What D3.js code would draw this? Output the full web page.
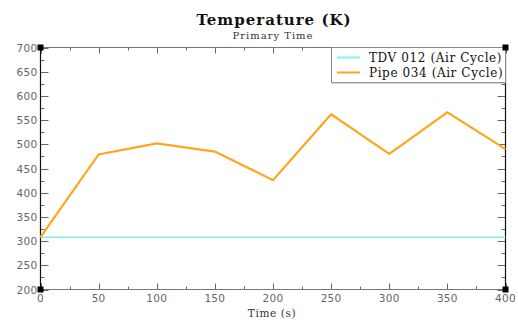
<!DOCTYPE html>
<html>
<head>
<meta charset="utf-8">
<script src="https://cdn.jsdelivr.net/npm/d3@7"></script>
<style>
  html, body { margin: 0; padding: 0; background: #fff; }
  svg { display: block; }
</style>
</head>
<body>
<svg id="chart" width="518" height="320"></svg>
<script>
// Time samples (s)
const times = [0, 50, 100, 150, 200, 250, 300, 350, 400];
// TDV 012 (Air Cycle) temperature (K)
const tdvTemps = [308, 308, 308, 308, 308, 308, 308, 308, 308];
// Pipe 034 (Air Cycle) temperature (K)
const pipeTemps = [308, 479, 502, 485, 426, 562, 480, 566, 490];
const seriesNames = ["TDV 012 (Air Cycle)", "Pipe 034 (Air Cycle)"];
const seriesColors = ["#7ff0ee", "#ffa51f"];
const xTicks = [0, 50, 100, 150, 200, 250, 300, 350, 400];
const yTicks = [200, 250, 300, 350, 400, 450, 500, 550, 600, 650, 700];

const svg = d3.select("#chart");
const plotL = 40.5, plotR = 505.5, plotT = 47.5, plotB = 289.5;

const x = d3.scaleLinear().domain([0, 400]).range([plotL, plotR]);
const y = d3.scaleLinear().domain([200, 700]).range([plotB, plotT]);

const serif = "'DejaVu Serif', serif";
const sans = "'DejaVu Sans', sans-serif";

// Titles
svg.append("text").attr("x", 274).attr("y", 25).attr("text-anchor", "middle")
  .attr("font-family", serif).attr("font-weight", "bold").attr("font-size", 15)
  .attr("letter-spacing", 1).attr("fill", "#111").text("Temperature (K)");
svg.append("text").attr("x", 273).attr("y", 39).attr("text-anchor", "middle")
  .attr("font-family", serif).attr("font-size", 10).attr("letter-spacing", 1)
  .attr("fill", "#333").text("Primary Time");
svg.append("text").attr("x", 272).attr("y", 317).attr("text-anchor", "middle")
  .attr("font-family", serif).attr("font-size", 10.5).attr("letter-spacing", 0.6)
  .attr("fill", "#333").text("Time (s)");

// Minor ticks every 25 units
const xMinor = d3.range(25, 400, 50);
const yMinor = d3.range(225, 700, 50);

const tickG = svg.append("g").attr("stroke", "#666").attr("stroke-width", 1);
// left / right axis ticks (pointing inward)
yTicks.forEach(v => {
  const py = Math.round(y(v)) + 0.5;
  tickG.append("line").attr("x1", plotL).attr("x2", plotL + 8).attr("y1", py).attr("y2", py);
  tickG.append("line").attr("x1", plotR).attr("x2", plotR - 8).attr("y1", py).attr("y2", py);
});
yMinor.forEach(v => {
  const py = Math.round(y(v)) + 0.5;
  tickG.append("line").attr("x1", plotL).attr("x2", plotL + 4).attr("y1", py).attr("y2", py);
  tickG.append("line").attr("x1", plotR).attr("x2", plotR - 4).attr("y1", py).attr("y2", py);
});
// top / bottom axis ticks (pointing inward)
xTicks.forEach(v => {
  const px = Math.round(x(v)) + 0.5;
  tickG.append("line").attr("x1", px).attr("x2", px).attr("y1", plotB).attr("y2", plotB - 6);
  tickG.append("line").attr("x1", px).attr("x2", px).attr("y1", plotT).attr("y2", plotT + 6);
});
xMinor.forEach(v => {
  const px = Math.round(x(v)) + 0.5;
  tickG.append("line").attr("x1", px).attr("x2", px).attr("y1", plotB).attr("y2", plotB - 3);
  tickG.append("line").attr("x1", px).attr("x2", px).attr("y1", plotT).attr("y2", plotT + 3);
});

// Frame: horizontal edges grey, vertical edges dark
svg.append("line").attr("x1", plotL).attr("x2", plotR).attr("y1", plotT).attr("y2", plotT).attr("stroke", "#777");
svg.append("line").attr("x1", plotL).attr("x2", plotR).attr("y1", plotB).attr("y2", plotB).attr("stroke", "#777");
svg.append("line").attr("x1", plotL).attr("x2", plotL).attr("y1", plotT).attr("y2", plotB).attr("stroke", "#111").attr("stroke-width", 1.2);
svg.append("line").attr("x1", plotR).attr("x2", plotR).attr("y1", plotT).attr("y2", plotB).attr("stroke", "#111").attr("stroke-width", 1.2);

// Tick labels
svg.append("g").selectAll("text").data(yTicks).join("text")
  .attr("x", plotL - 3).attr("y", d => y(d) + 4).attr("text-anchor", "end")
  .attr("font-family", sans).attr("font-size", 10.5).attr("letter-spacing", 0.3).attr("fill", "#666")
  .text(d => d);
svg.append("g").selectAll("text").data(xTicks).join("text")
  .attr("x", d => x(d)).attr("y", plotB + 12).attr("text-anchor", "middle")
  .attr("font-family", sans).attr("font-size", 10.5).attr("letter-spacing", 0.3).attr("fill", "#666")
  .text(d => d);

// Series lines
const line = d3.line().x((d, i) => x(times[i])).y(d => y(d));
[tdvTemps, pipeTemps].forEach((vals, k) => {
  svg.append("path").datum(vals).attr("d", line)
    .attr("fill", "none").attr("stroke", seriesColors[k])
    .attr("stroke-width", k === 0 ? 1.5 : 2.2).attr("stroke-linejoin", "miter");
});

// Legend
const lg = svg.append("g");
lg.append("rect").attr("x", 331.5).attr("y", plotT).attr("width", plotR - 331.5).attr("height", 35)
  .attr("fill", "#fff").attr("stroke", "#888");
lg.append("line").attr("x1", 332).attr("x2", plotR).attr("y1", plotT + 35.5).attr("y2", plotT + 35.5).attr("stroke", "#aaa");
seriesNames.forEach((name, i) => {
  const yy = plotT + 10 + i * 15;
  lg.append("line").attr("x1", 337).attr("x2", 360).attr("y1", yy).attr("y2", yy)
    .attr("stroke", seriesColors[i]).attr("stroke-width", 2);
  lg.append("text").attr("x", 369).attr("y", yy + 4)
    .attr("font-family", serif).attr("font-size", 12).attr("letter-spacing", 0.6)
    .attr("fill", "#111").text(name);
});

// Corner markers
[[plotL, plotT], [plotR, plotT], [plotL, plotB], [plotR, plotB]].forEach(([cx, cy]) => {
  svg.append("rect").attr("x", cx - 3).attr("y", cy - 3).attr("width", 6).attr("height", 6).attr("fill", "#000");
});
</script>
</body>
</html>
